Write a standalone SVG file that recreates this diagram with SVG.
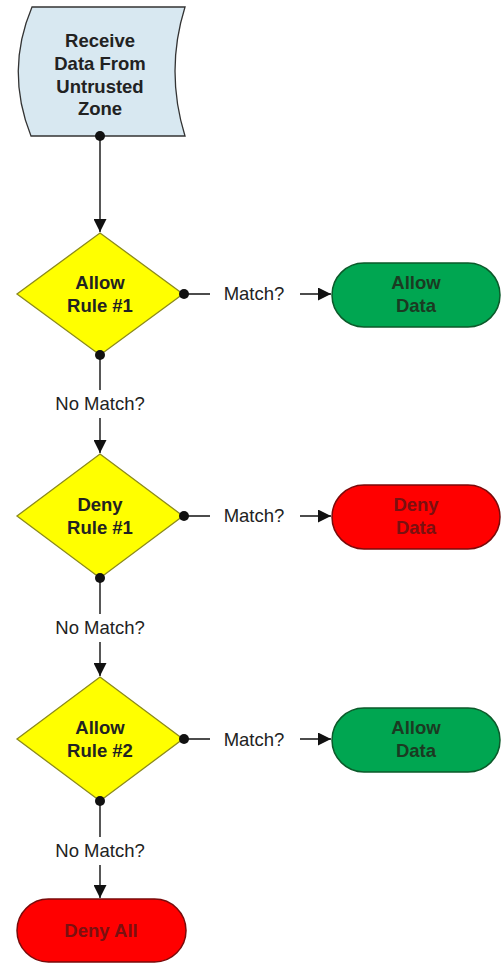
<svg xmlns="http://www.w3.org/2000/svg" width="501" height="963" viewBox="0 0 501 963">
<defs>
<marker id="arr" viewBox="0 0 13 13" refX="13" refY="6.5" markerWidth="13" markerHeight="13" markerUnits="userSpaceOnUse" orient="auto"><path d="M0,0 L13,6.5 L0,13 Z" fill="#111"/></marker>
<marker id="dot" viewBox="0 0 10 10" refX="5" refY="5" markerWidth="10" markerHeight="10" markerUnits="userSpaceOnUse"><circle cx="5" cy="5" r="5" fill="#111"/></marker>
</defs>
<style>
.t{font-family:"Liberation Sans",Arial,sans-serif;font-size:18.5px;font-weight:bold;text-anchor:middle;fill:#222}
.l{font-family:"Liberation Sans",Arial,sans-serif;font-size:18.5px;text-anchor:middle;fill:#222}
.dia{fill:#ffff00;stroke:#8c8a1c;stroke-width:1.3}
.grn{fill:#00a651;stroke:#0b5a2a;stroke-width:1.5}
.red{fill:#ff0000;stroke:#7a0a0a;stroke-width:1.5}
.gt{fill:#1b3a22}
.rt{fill:#7a1010}
.c{fill:none;stroke:#111;stroke-width:1.4}
.bg{fill:#fff}
</style>
<g id="start">
<path d="M32,7 L185,7 Q165,71 185,136 L31,136 Q5,71 32,7 Z" fill="#d8e8f1" stroke="#333" stroke-width="1.3"/>
<text class="t" x="100" y="47">Receive</text>
<text class="t" x="100" y="70">Data From</text>
<text class="t" x="100" y="93">Untrusted</text>
<text class="t" x="100" y="115">Zone</text>
</g>
<g id="allow1">
<path class="dia" d="M100,233 L183,294 L100,355 L17,294 Z"/>
<text class="t" x="100" y="289">Allow</text>
<text class="t" x="100" y="312">Rule #1</text>
</g>
<g id="allowdata1">
<rect class="grn" x="332" y="263" width="168" height="64" rx="32"/>
<text class="t gt" x="416" y="289">Allow</text>
<text class="t gt" x="416" y="312">Data</text>
</g>
<g id="deny1">
<path class="dia" d="M100,454 L183,516 L100,578 L17,516 Z"/>
<text class="t" x="100" y="511">Deny</text>
<text class="t" x="100" y="534">Rule #1</text>
</g>
<g id="denydata">
<rect class="red" x="332" y="485" width="168" height="64" rx="32"/>
<text class="t rt" x="416" y="511">Deny</text>
<text class="t rt" x="416" y="534">Data</text>
</g>
<g id="allow2">
<path class="dia" d="M100,677 L183,739 L100,801 L17,739 Z"/>
<text class="t" x="100" y="734">Allow</text>
<text class="t" x="100" y="757">Rule #2</text>
</g>
<g id="allowdata2">
<rect class="grn" x="332" y="708" width="168" height="64" rx="32"/>
<text class="t gt" x="416" y="734">Allow</text>
<text class="t gt" x="416" y="757">Data</text>
</g>
<g id="denyall">
<rect class="red" x="17" y="899" width="169" height="63" rx="31.5"/>
<text class="t rt" x="101" y="937">Deny All</text>
</g>
<g id="connectors">
<path class="c" d="M100,136 L100,232" marker-start="url(#dot)" marker-end="url(#arr)"/>
<path class="c" d="M184,294 L331,294" marker-start="url(#dot)" marker-end="url(#arr)"/>
<rect class="bg" x="210" y="282" width="90" height="24"/>
<text class="l" x="254" y="300">Match?</text>
<path class="c" d="M100,355 L100,453" marker-start="url(#dot)" marker-end="url(#arr)"/>
<rect class="bg" x="50" y="390" width="100" height="28"/>
<text class="l" x="100" y="410">No Match?</text>
<path class="c" d="M184,516 L331,516" marker-start="url(#dot)" marker-end="url(#arr)"/>
<rect class="bg" x="210" y="504" width="90" height="24"/>
<text class="l" x="254" y="522">Match?</text>
<path class="c" d="M100,578 L100,676" marker-start="url(#dot)" marker-end="url(#arr)"/>
<rect class="bg" x="50" y="614" width="100" height="28"/>
<text class="l" x="100" y="634">No Match?</text>
<path class="c" d="M184,739 L331,739" marker-start="url(#dot)" marker-end="url(#arr)"/>
<rect class="bg" x="210" y="727" width="90" height="24"/>
<text class="l" x="254" y="746">Match?</text>
<path class="c" d="M100,801 L100,898" marker-start="url(#dot)" marker-end="url(#arr)"/>
<rect class="bg" x="50" y="837" width="100" height="28"/>
<text class="l" x="100" y="857">No Match?</text>
</g>
</svg>
